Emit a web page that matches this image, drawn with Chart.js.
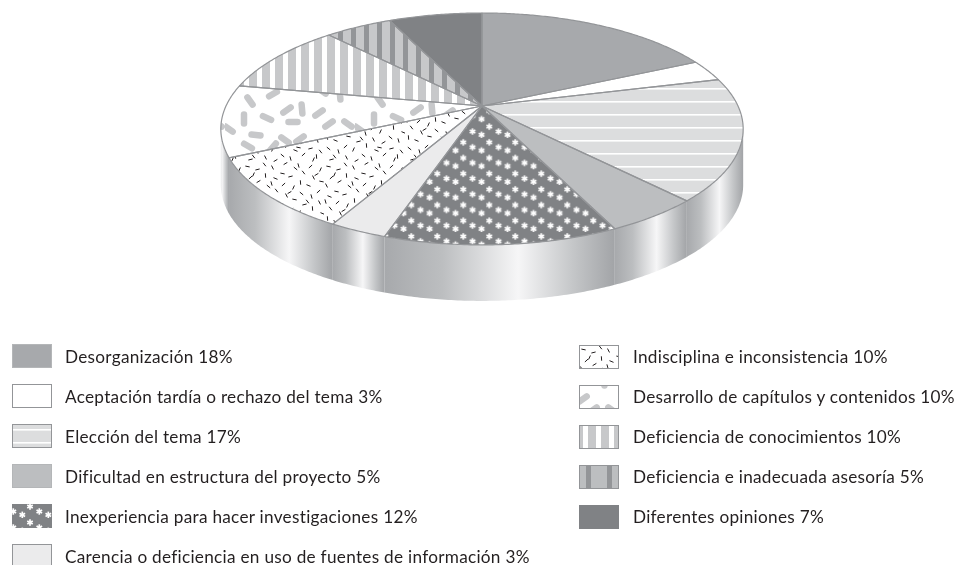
<!DOCTYPE html>
<html lang="es">
<head>
<meta charset="UTF-8">
<title>Pastel 3D</title>
<script src="https://cdn.jsdelivr.net/npm/chart.js"></script>
<style>
    html, body { margin: 0; padding: 0; background: #fff; overflow: hidden; }
    #wrap { position: relative; width: 956px; height: 565px; overflow: hidden; }
    #pie { position: absolute; left: 0; top: 0; }
    .legend-row { position: absolute; height: 24px; line-height: 24px; white-space: nowrap;
        font-family: Lato, sans-serif; font-size: 17.2px; letter-spacing: 0.28px; color: #231f20; }
    .legend-row canvas { position: absolute; left: 0; top: 0; }
    .legend-row span { position: absolute; top: 1px; }
</style>
</head>
<body>
<div id="wrap">
    <canvas id="pie" width="956" height="565"></canvas>
</div>
<script>
const categories = [
    'Desorganización',
    'Aceptación tardía o rechazo del tema',
    'Elección del tema',
    'Dificultad en estructura del proyecto',
    'Inexperiencia para hacer investigaciones',
    'Carencia o deficiencia en uso de fuentes de información',
    'Indisciplina e inconsistencia',
    'Desarrollo de capítulos y contenidos',
    'Deficiencia de conocimientos',
    'Deficiencia e inadecuada asesoría',
    'Diferentes opiniones'
];
const percentages = [18, 3, 17, 5, 12, 3, 10, 10, 10, 5, 7];
const leftColumnCount = 6;

// perspective of the tilted disc, and the height of its side wall
const DISC_W = 256, DISC_H = 111.4, TILT = -0.198, WALL = 56;
const LINE = '#939598';

function makeTile(w, h, paint) {
    const c = document.createElement('canvas');
    c.width = w;
    c.height = h;
    paint(c.getContext('2d'), w, h);
    return c;
}

function tilePattern(ctx, tile, x, y, sy) {
    const p = ctx.createPattern(tile, 'repeat');
    p.setTransform(new DOMMatrix([1, 0, 0, sy || 1, x, y]));
    return p;
}

// ---- textures
const hLines = makeTile(4, 13, (g, w, h) => {
    g.fillStyle = '#dcddde';
    g.fillRect(0, 0, w, h);
    g.fillStyle = '#fff';
    g.fillRect(0, 0, w, 1.6);
});

const stars = makeTile(26, 16, (g) => {
    g.fillStyle = '#808285';
    g.fillRect(0, 0, 26, 16);
    g.strokeStyle = '#fff';
    g.lineWidth = 1.7;
    [[18, 2.5], [1.3, 7.5], [10.3, 10.8]].forEach(s => {
        [-26, 0, 26].forEach(dx => [-16, 0, 16].forEach(dy => {
            for (let k = 0; k < 3; k++) {
                const a = Math.PI / 2 + k * Math.PI / 3;
                const cx = s[0] + dx, cy = s[1] + dy;
                g.beginPath();
                g.moveTo(cx - 3.2 * Math.cos(a), cy - 3.2 * Math.sin(a));
                g.lineTo(cx + 3.2 * Math.cos(a), cy + 3.2 * Math.sin(a));
                g.stroke();
            }
        }));
    });
});

const dashJitter = [0, 3, -2, 1, -3, 2, -1];
const dashAngles = [0.2, 1.5, 2.4, 0.7, 1.1, 2.9, 0.4, 2.0, 1.3, 2.6, 0.9];
const dashes = makeTile(81, 81, (g) => {
    g.fillStyle = '#fff';
    g.fillRect(0, 0, 81, 81);
    g.strokeStyle = '#231f20';
    g.lineWidth = 1;
    for (let i = 0; i < 9; i++) {
        for (let j = 0; j < 9; j++) {
            const x = i * 9 + 4.5 + dashJitter[(i * 3 + j) % 7];
            const y = j * 9 + 4.5 + dashJitter[(i + j * 5) % 7];
            const a = dashAngles[(i * 5 + j * 2) % 11];
            g.beginPath();
            g.moveTo(x - 2.2 * Math.cos(a), y - 2.2 * Math.sin(a));
            g.lineTo(x + 2.2 * Math.cos(a), y + 2.2 * Math.sin(a));
            g.stroke();
        }
    }
});

const pillSpots = [
    [25, 16, 55], [48, 9, -30], [62, 25, -35], [77, 24, 85], [94, 28, -35], [19, 34, 90],
    [42, 33, 25], [68, 37, 0], [104, 39, -35], [123, 39, 35], [4, 44, 35], [31, 50, 5],
    [60, 55, 35], [75, 54, -35], [23, 61, 30], [48, 62, -50], [115, 10, 85], [97, 6, 35]
];
const pills = makeTile(130, 70, (g) => {
    g.fillStyle = '#fff';
    g.fillRect(0, 0, 130, 70);
    g.strokeStyle = '#c7c8ca';
    g.lineWidth = 6.5;
    g.lineCap = 'round';
    pillSpots.forEach(s => {
        const a = s[2] * Math.PI / 180;
        g.beginPath();
        g.moveTo(s[0] - 4.5 * Math.cos(a), s[1] - 4.5 * Math.sin(a));
        g.lineTo(s[0] + 4.5 * Math.cos(a), s[1] + 4.5 * Math.sin(a));
        g.stroke();
    });
});

const stripesWhite = makeTile(13, 4, (g) => {
    g.fillStyle = '#fff';
    g.fillRect(0, 0, 13, 4);
    g.fillStyle = '#c7c8ca';
    g.fillRect(0, 0, 8, 4);
});
const stripesDark = makeTile(13, 4, (g) => {
    g.fillStyle = '#c7c8ca';
    g.fillRect(0, 0, 13, 4);
    g.fillStyle = '#939598';
    g.fillRect(8, 0, 5, 4);
});
// the key of this slice has wider stripes than the slice itself
const stripesDarkKey = makeTile(21, 4, (g) => {
    g.fillStyle = '#bcbec0';
    g.fillRect(0, 0, 21, 4);
    g.fillStyle = '#939598';
    g.fillRect(7, 0, 5, 4);
});

function sliceFills(ctx) {
    return [
        '#a7a9ac',
        '#ffffff',
        tilePattern(ctx, hLines, 0, 88),
        '#bcbec0',
        tilePattern(ctx, stars, 471.3, 124.2, 0.98),
        '#ebebec',
        tilePattern(ctx, dashes, 0, 0),
        tilePattern(ctx, pills, 225, 85),
        tilePattern(ctx, stripesWhite, 262, 0),
        tilePattern(ctx, stripesDark, 265, 0),
        '#808285'
    ];
}

function keyFills(ctx) {
    const f = sliceFills(ctx);
    f[2] = tilePattern(ctx, hLines, 0, 5);
    f[4] = tilePattern(ctx, stars, 0, 0);
    f[6] = tilePattern(ctx, dashes, 0, 0);
    f[7] = tilePattern(ctx, pills, -90, -14);
    f[8] = tilePattern(ctx, stripesWhite, -4, 0);
    f[9] = tilePattern(ctx, stripesDarkKey, 0, 0);
    return f;
}

// ---- the tilted disc: library arcs are re-projected through this
function project(arc, a) {
    const u = Math.cos(a), v = Math.sin(a), d = 1 + TILT * v;
    return [arc.x + DISC_W * u / d, arc.y + DISC_H * v / d];
}

function arcPoints(arc, from, to) {
    const pts = [];
    const n = Math.max(2, Math.ceil((to - from) / 0.01));
    for (let i = 0; i <= n; i++) pts.push(project(arc, from + (to - from) * i / n));
    return pts;
}

function drawWall(ctx, arc) {
    const t0 = Math.asin(-TILT), t1 = Math.PI - t0;
    const from = Math.max(arc.startAngle, t0), to = Math.min(arc.endAngle, t1);
    if (from >= to) return;
    const pts = arcPoints(arc, from, to);
    const xs = pts.map(p => p[0]);
    let x0 = Math.min(...xs);
    const x1 = Math.max(...xs);
    // wall running out of sight on the left: only the end of its shine shows
    if (arc.endAngle > t1) x0 -= x1 - x0;
    const grad = ctx.createLinearGradient(x0, 0, x1, 0);
    grad.addColorStop(0, '#a7a9ac');
    grad.addColorStop(0.25, '#bcbec0');
    grad.addColorStop(0.58, '#f6f6f7');
    grad.addColorStop(0.82, '#c4c6c8');
    grad.addColorStop(1, '#a2a4a7');
    ctx.beginPath();
    pts.forEach((p, i) => i ? ctx.lineTo(p[0], p[1]) : ctx.moveTo(p[0], p[1]));
    pts.slice().reverse().forEach(p => ctx.lineTo(p[0], p[1] + WALL));
    ctx.closePath();
    ctx.fillStyle = grad;
    ctx.fill();
}

function wedgePath(ctx, arc) {
    ctx.beginPath();
    ctx.moveTo(arc.x, arc.y);
    arcPoints(arc, arc.startAngle, arc.endAngle).forEach(p => ctx.lineTo(p[0], p[1]));
    ctx.closePath();
}

const tiltedDisc = {
    id: 'tiltedDisc',
    beforeDatasetDraw(chart, args) {
        const ctx = chart.ctx;
        const arcs = chart.getDatasetMeta(args.index).data;
        arcs.forEach(arc => drawWall(ctx, arc));
        arcs.forEach(arc => {
            wedgePath(ctx, arc);
            ctx.fillStyle = arc.options.backgroundColor;
            ctx.fill();
        });
        arcs.forEach(arc => {
            wedgePath(ctx, arc);
            ctx.strokeStyle = arc.options.borderColor;
            ctx.lineWidth = arc.options.borderWidth;
            ctx.lineJoin = 'round';
            ctx.stroke();
        });
        return false;
    }
};

const canvas = document.getElementById('pie');
const mainCtx = canvas.getContext('2d');

new Chart(mainCtx, {
    type: 'pie',
    data: {
        labels: categories,
        datasets: [{
            data: percentages,
            backgroundColor: sliceFills(mainCtx),
            borderColor: LINE,
            borderWidth: 1.2
        }]
    },
    options: {
        responsive: false,
        animation: false,
        layout: { padding: { left: 8, right: 0, top: 13, bottom: 366 } },
        plugins: { legend: { display: false }, tooltip: { enabled: false } }
    },
    plugins: [tiltedDisc]
});

// ---- legend, two columns
const wrap = document.getElementById('wrap');
categories.forEach((name, i) => {
    const left = i < leftColumnCount;
    const row = document.createElement('div');
    row.className = 'legend-row';
    row.style.left = (left ? 12 : 579) + 'px';
    row.style.top = (left ? 344 + i * 40 : 345 + (i - leftColumnCount) * 40) + 'px';

    const sw = document.createElement('canvas');
    sw.width = 40;
    sw.height = 24;
    const g = sw.getContext('2d');
    g.fillStyle = keyFills(g)[i];
    g.fillRect(0, 0, 40, 24);
    if (i !== 4 && i !== 10) {
        g.strokeStyle = i === 0 || i === 3 ? '#b4b6b8' : LINE;
        g.lineWidth = 1;
        g.strokeRect(0.5, 0.5, 39, 23);
    }
    row.appendChild(sw);

    const label = document.createElement('span');
    label.style.left = (left ? 53 : 54) + 'px';
    if (!left) label.style.top = '0px';
    label.textContent = name + ' ' + percentages[i] + '%';
    row.appendChild(label);
    wrap.appendChild(row);
});
</script>
</body>
</html>
